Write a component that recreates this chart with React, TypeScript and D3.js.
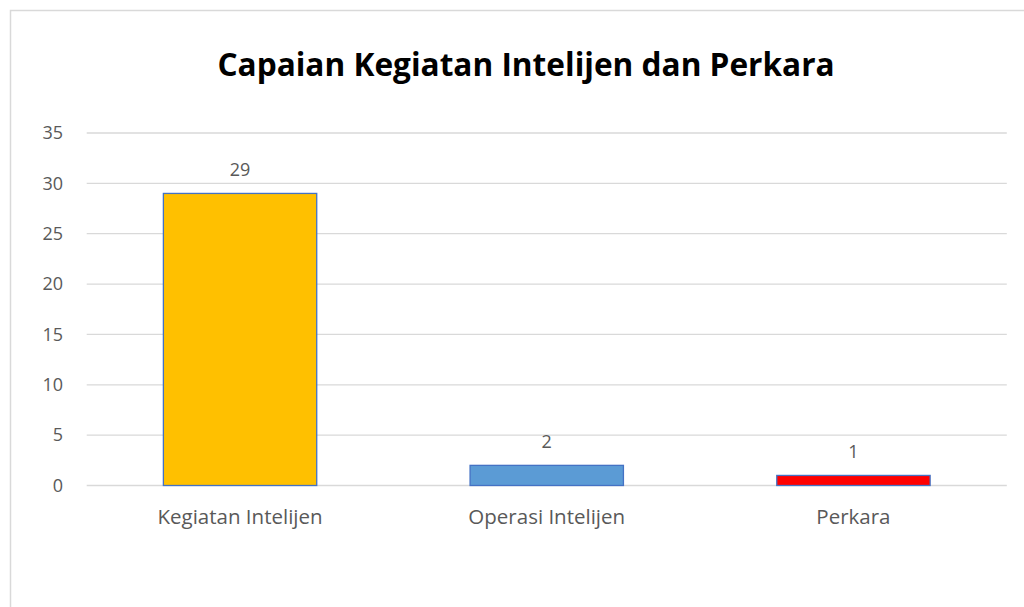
import * as d3 from 'd3';

const categories = ['Kegiatan Intelijen', 'Operasi Intelijen', 'Perkara'];
const values = [29, 2, 1];
const barColors = ['#FFC000', '#5B9BD5', '#FF0000'];
const yTicks = [0, 5, 10, 15, 20, 25, 30, 35];
const title = 'Capaian Kegiatan Intelijen dan Perkara';

const W = 1024;
const H = 607;
const font = "'Open Sans', sans-serif";

export default function App() {
  const plotLeft = 86.7;
  const plotRight = 1006.8;
  const plotTop = 133;
  const plotBottom = 485.5;

  const x = d3.scaleBand<string>()
    .domain(categories)
    .range([plotLeft, plotRight])
    .paddingInner(0.5)
    .paddingOuter(0.25);
  const y = d3.scaleLinear().domain([0, 35]).range([plotBottom, plotTop]);

  return (
    <svg width={W} height={H} style={{ position: 'absolute', left: 0, top: 0 }}>
      <rect x={0} y={0} width={W} height={H} fill="#fff" />
      {/* chart border, only top and left visible */}
      <rect x={10.5} y={10.5} width={W + 20} height={H + 20} fill="none" stroke="#d9d9d9" strokeWidth={1.5} />

      <text x={526} y={76} textAnchor="middle" fontFamily={font} fontWeight="bold" fontSize={31.6} fill="#000">
        {title}
      </text>

      {yTicks.map(t => (
        <g key={t}>
          <line x1={plotLeft} x2={plotRight} y1={y(t)} y2={y(t)} stroke="#d9d9d9" strokeWidth={1.3} />
          <text x={63} y={y(t)} dy="0.35em" textAnchor="end" fontFamily={font} fontSize={18} fill="#595959">
            {t}
          </text>
        </g>
      ))}

      {categories.map((c, i) => (
        <g key={c}>
          <rect
            x={x(c)!}
            y={y(values[i])}
            width={x.bandwidth()}
            height={y(0) - y(values[i])}
            fill={barColors[i]}
            stroke="#4472C4"
            strokeWidth={1.3}
          />
          <text x={x(c)! + x.bandwidth() / 2} y={y(values[i]) - 17} textAnchor="middle" fontFamily={font} fontSize={18} fill="#595959">
            {values[i]}
          </text>
          <text x={x(c)! + x.bandwidth() / 2} y={524} textAnchor="middle" fontFamily={font} fontSize={20.5} fill="#595959">
            {c}
          </text>
        </g>
      ))}
    </svg>
  );
}
